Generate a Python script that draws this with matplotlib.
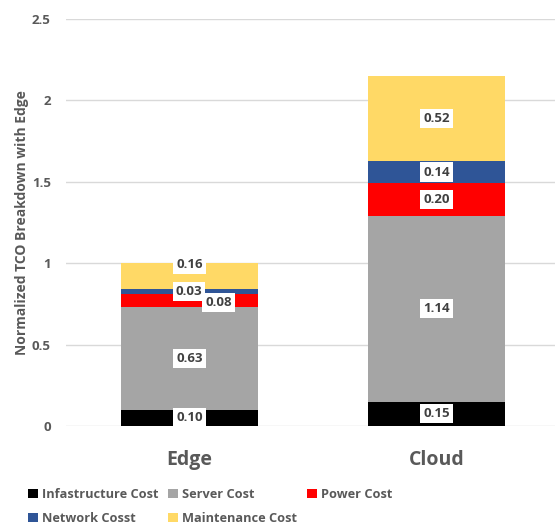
import matplotlib.pyplot as plt
import numpy as np

plt.rcParams['font.family'] = ['Open Sans', 'DejaVu Sans']

categories = ['Edge', 'Cloud']
series = ['Infastructure Cost', 'Server Cost', 'Power Cost', 'Network Cosst', 'Maintenance Cost']
values = {
    'Infastructure Cost': [0.10, 0.15],
    'Server Cost': [0.63, 1.14],
    'Power Cost': [0.08, 0.20],
    'Network Cosst': [0.03, 0.14],
    'Maintenance Cost': [0.16, 0.52],
}
colors = ['#000000', '#A5A5A5', '#FF0000', '#2F5597', '#FFD966']

# some labels on the edge bar were nudged by hand
label_shift = {
    ('Power Cost', 0): (0.117, -0.01),
    ('Network Cosst', 0): (-0.002, 0.0),
    ('Maintenance Cost', 0): (0.0, 0.07),
}

txt = '#595959'
fig = plt.figure(figsize=(5.55, 5.25), dpi=100)
ax = fig.add_axes([0.119, 0.1886, 0.89, 0.7752])

x = np.arange(len(categories))
bottom = np.zeros(len(categories))
handles = []
for name, c in zip(series, colors):
    v = np.array(values[name])
    b = ax.bar(x, v, 0.555, bottom=bottom, color=c, zorder=2, label=name)
    handles.append(b)
    for i in range(len(x)):
        dx, dy = label_shift.get((name, i), (0, 0))
        ax.text(x[i] + dx, bottom[i] + v[i] / 2 + dy, '%.2f' % v[i],
                ha='center', va='center', fontsize=9.5, fontweight='bold',
                color='#404040', zorder=4,
                bbox=dict(facecolor='white', edgecolor='none', pad=2.2))
    bottom += v

ax.set_xlim(-0.5, 1.5)
ax.set_ylim(0, 2.5)
ax.set_yticks(np.arange(0, 2.51, 0.5))
ax.set_yticklabels(['0', '0.5', '1', '1.5', '2', '2.5'])
ax.set_xticks(x)
ax.set_xticklabels(categories, fontsize=14, fontweight='bold', color=txt)
ax.tick_params(axis='x', length=0, pad=17)
ax.tick_params(axis='y', length=0, pad=11, labelsize=9.5, labelcolor=txt)
for lbl in ax.get_yticklabels():
    lbl.set_fontweight('bold')
ax.yaxis.grid(True, color='#D9D9D9', linewidth=1, zorder=0)
for s in ax.spines.values():
    s.set_visible(False)
ax.set_ylabel('Normalized TCO Breakdown with Edge', fontsize=10,
              fontweight='bold', color=txt, labelpad=2)

order = [0, 3, 1, 4, 2]
leg = fig.legend([handles[k] for k in order], [series[k] for k in order],
                 ncol=3, loc='lower left', bbox_to_anchor=(0.03, -0.022),
                 frameon=False, handlelength=0.75, handleheight=0.75,
                 handletextpad=0.35, columnspacing=0.75, labelspacing=0.85,
                 prop={'size': 9.2, 'weight': 'bold'})
for t in leg.get_texts():
    t.set_color(txt)

fig.savefig('out.png', dpi=100)
